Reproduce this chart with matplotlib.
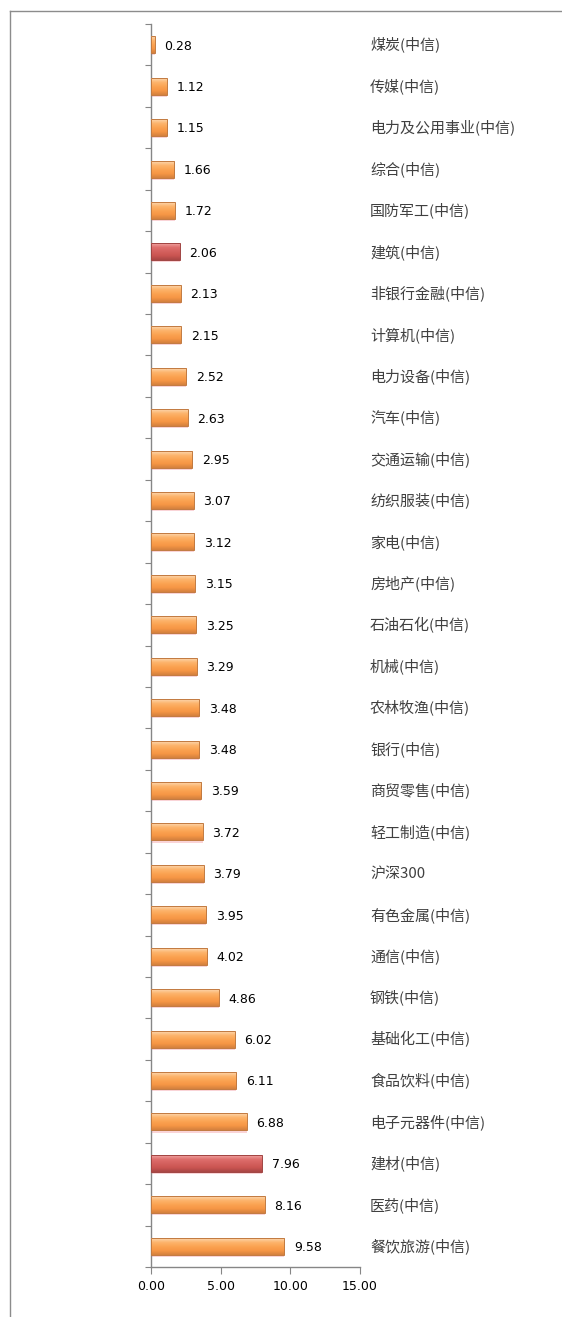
import matplotlib.pyplot as plt
import numpy as np
from matplotlib.colors import LinearSegmentedColormap
from matplotlib.lines import Line2D
from matplotlib import patheffects as pe
import matplotlib.transforms as mtransforms

plt.rcParams['font.family'] = ['DejaVu Sans', 'Noto Sans CJK SC']

categories = [
    "煤炭(中信)", "传媒(中信)", "电力及公用事业(中信)", "综合(中信)", "国防军工(中信)",
    "建筑(中信)", "非银行金融(中信)", "计算机(中信)", "电力设备(中信)", "汽车(中信)",
    "交通运输(中信)", "纺织服装(中信)", "家电(中信)", "房地产(中信)", "石油石化(中信)",
    "机械(中信)", "农林牧渔(中信)", "银行(中信)", "商贸零售(中信)", "轻工制造(中信)",
    "沪深300", "有色金属(中信)", "通信(中信)", "钢铁(中信)", "基础化工(中信)",
    "食品饮料(中信)", "电子元器件(中信)", "建材(中信)", "医药(中信)", "餐饮旅游(中信)",
]
values = [
    0.28, 1.12, 1.15, 1.66, 1.72, 2.06, 2.13, 2.15, 2.52, 2.63,
    2.95, 3.07, 3.12, 3.15, 3.25, 3.29, 3.48, 3.48, 3.59, 3.72,
    3.79, 3.95, 4.02, 4.86, 6.02, 6.11, 6.88, 7.96, 8.16, 9.58,
]
highlight = ["建筑(中信)", "建材(中信)"]
x_ticks = [0, 5, 10, 15]

orange_cmap = LinearSegmentedColormap.from_list(
    "orange", ["#fcd7b0", "#fdb46c", "#fba352", "#f69645", "#d4803e"])
red_cmap = LinearSegmentedColormap.from_list(
    "red", ["#f0a4a2", "#de6e6c", "#d4605e", "#ca5451", "#a84644"])

fig = plt.figure(figsize=(5.62, 13.17), dpi=100)
ax = fig.add_axes([151 / 562, 50 / 1317, 209 / 562, 1243 / 1317])

y = np.arange(len(categories))
bars = ax.barh(y, values, height=0.41, color="#f79646", edgecolor="none", zorder=2)

grad = np.linspace(0, 1, 64).reshape(-1, 1)
for bar, cat in zip(bars, categories):
    red = cat in highlight
    bar.set_path_effects([
        pe.SimplePatchShadow(offset=(0, -1.5), shadow_rgbFace="#f4a0a8", alpha=0.45),
        pe.Normal(),
    ])
    x0, y0 = bar.get_x(), bar.get_y()
    w, h = bar.get_width(), bar.get_height()
    im = ax.imshow(grad, cmap=red_cmap if red else orange_cmap, aspect="auto",
                   extent=(x0, x0 + w, y0 + h, y0), zorder=3, interpolation="bicubic")
    im.set_clip_path(bar)
    ax.add_patch(plt.Rectangle((x0, y0), w, h, fill=False,
                               edgecolor="#a04442" if red else "#c27a40",
                               linewidth=0.7, zorder=4))

for yi, v in zip(y, values):
    ax.annotate(f"{v:.2f}", (v, yi), xytext=(7, -1), textcoords="offset points",
                ha="left", va="center", fontsize=9, color="#000000")

trans = mtransforms.blended_transform_factory(ax.transAxes, ax.transData)
for yi, cat in zip(y, categories):
    ax.text(1.048, yi, cat, transform=trans, ha="left", va="center",
            fontsize=10.8, color="#404040", family=["Noto Sans CJK SC", "DejaVu Sans"])

ax.set_xlim(0, 15)
ax.set_ylim(len(categories) - 0.5, -0.5)
ax.set_xticks(x_ticks)
ax.set_xticklabels([f"{t:.2f}" for t in x_ticks], fontsize=9)
ax.set_yticks(np.arange(len(categories) + 1) - 0.5)
ax.set_yticklabels([])
ax.tick_params(axis="y", length=4, color="#868686", width=0.8)
ax.tick_params(axis="x", length=5, color="#868686", width=0.8, pad=4)
for s in ["top", "right"]:
    ax.spines[s].set_visible(False)
for s in ["left", "bottom"]:
    ax.spines[s].set_color("#868686")
    ax.spines[s].set_linewidth(1.0)

fx = 9.5 / 562
fy = 1 - 10.5 / 1317
fig.add_artist(Line2D([fx, fx], [0, fy], color="#8c8c8c", linewidth=1.0))
fig.add_artist(Line2D([fx, 1], [fy, fy], color="#8c8c8c", linewidth=1.0))

fig.savefig("out.png", dpi=100)
